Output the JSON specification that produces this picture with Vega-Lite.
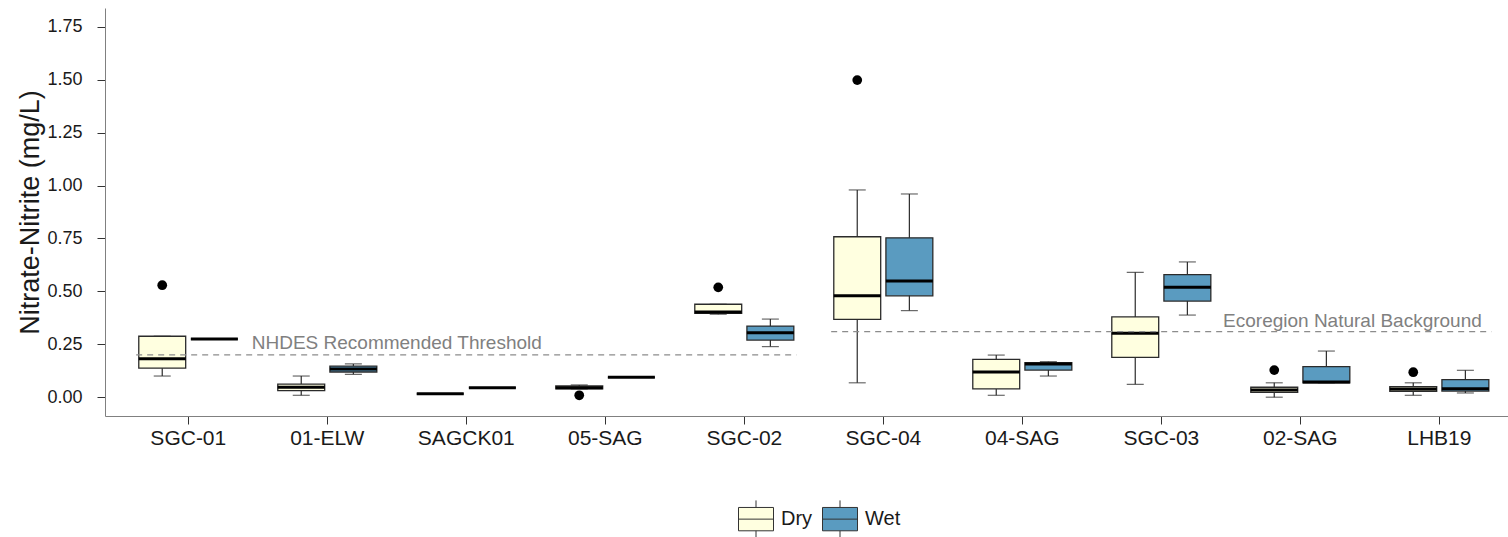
{
  "$schema": "https://vega.github.io/schema/vega-lite/v6.json",
  "autosize": {"type": "none"},
  "padding": {"left": 105, "top": 8, "right": 0, "bottom": 121},
  "width": 1403,
  "height": 408,
  "background": "white",
  "config": {
    "view": {"stroke": null},
    "font": "Liberation Sans",
    "axisX": {"domainColor": "#808080", "tickColor": "#333333", "tickSize": 8, "labelFontSize": 21, "labelColor": "#1a1a1a", "labelPadding": 3, "grid": false, "labelAngle": 0},
    "axisY": {"domainColor": "#808080", "tickColor": "#333333", "tickSize": 8, "labelFontSize": 18, "labelColor": "#1a1a1a", "labelPadding": 15, "grid": false, "titleFontSize": 27, "titleFontWeight": "normal", "titleColor": "#1a1a1a", "titlePadding": 2}
  },
  "datasets": {
    "boxes": [
      {"site": "SGC-01", "season": "Dry", "lower": 0.100, "q1": 0.137, "median": 0.182, "q3": 0.288, "upper": 0.288, "outlier": 0.529},
      {"site": "SGC-01", "season": "Wet", "lower": 0.275, "q1": 0.275, "median": 0.275, "q3": 0.275, "upper": 0.275, "outlier": null},
      {"site": "01-ELW", "season": "Dry", "lower": 0.009, "q1": 0.031, "median": 0.047, "q3": 0.062, "upper": 0.100, "outlier": null},
      {"site": "01-ELW", "season": "Wet", "lower": 0.108, "q1": 0.119, "median": 0.133, "q3": 0.147, "upper": 0.157, "outlier": null},
      {"site": "SAGCK01", "season": "Dry", "lower": 0.016, "q1": 0.016, "median": 0.016, "q3": 0.016, "upper": 0.016, "outlier": null},
      {"site": "SAGCK01", "season": "Wet", "lower": 0.045, "q1": 0.045, "median": 0.045, "q3": 0.045, "upper": 0.045, "outlier": null},
      {"site": "05-SAG", "season": "Dry", "lower": 0.039, "q1": 0.039, "median": 0.045, "q3": 0.053, "upper": 0.058, "outlier": 0.009},
      {"site": "05-SAG", "season": "Wet", "lower": 0.094, "q1": 0.094, "median": 0.094, "q3": 0.094, "upper": 0.094, "outlier": null},
      {"site": "SGC-02", "season": "Dry", "lower": 0.392, "q1": 0.396, "median": 0.402, "q3": 0.439, "upper": 0.439, "outlier": 0.519},
      {"site": "SGC-02", "season": "Wet", "lower": 0.239, "q1": 0.270, "median": 0.305, "q3": 0.336, "upper": 0.369, "outlier": null},
      {"site": "SGC-04", "season": "Dry", "lower": 0.068, "q1": 0.368, "median": 0.479, "q3": 0.758, "upper": 0.979, "outlier": 1.498},
      {"site": "SGC-04", "season": "Wet", "lower": 0.409, "q1": 0.479, "median": 0.549, "q3": 0.753, "upper": 0.960, "outlier": null},
      {"site": "04-SAG", "season": "Dry", "lower": 0.009, "q1": 0.039, "median": 0.119, "q3": 0.179, "upper": 0.199, "outlier": null},
      {"site": "04-SAG", "season": "Wet", "lower": 0.100, "q1": 0.128, "median": 0.157, "q3": 0.163, "upper": 0.168, "outlier": null},
      {"site": "SGC-03", "season": "Dry", "lower": 0.061, "q1": 0.188, "median": 0.302, "q3": 0.379, "upper": 0.590, "outlier": null},
      {"site": "SGC-03", "season": "Wet", "lower": 0.388, "q1": 0.454, "median": 0.519, "q3": 0.579, "upper": 0.639, "outlier": null},
      {"site": "02-SAG", "season": "Dry", "lower": 0.000, "q1": 0.023, "median": 0.034, "q3": 0.047, "upper": 0.068, "outlier": 0.128},
      {"site": "02-SAG", "season": "Wet", "lower": 0.068, "q1": 0.068, "median": 0.072, "q3": 0.144, "upper": 0.218, "outlier": null},
      {"site": "LHB19", "season": "Dry", "lower": 0.009, "q1": 0.028, "median": 0.039, "q3": 0.050, "upper": 0.068, "outlier": 0.118},
      {"site": "LHB19", "season": "Wet", "lower": 0.020, "q1": 0.029, "median": 0.040, "q3": 0.083, "upper": 0.127, "outlier": null}
    ],
    "thresholds": [
      {"from": "SGC-01", "to": "SGC-02", "value": 0.2},
      {"from": "SGC-04", "to": "LHB19", "value": 0.31}
    ],
    "label1": [
      {"site": "01-ELW", "value": 0.228, "label": "NHDES Recommended Threshold"}
    ],
    "label2": [
      {"site": "02-SAG", "value": 0.333, "label": "Ecoregion Natural Background"}
    ]
  },
  "layer": [
    {
      "data": {"name": "boxes"},
      "mark": {"type": "rule", "color": "#2b2b2b", "strokeWidth": 1.2},
      "encoding": {
        "x": {"field": "site", "type": "nominal", "sort": null, "title": null, "scale": {"type": "band", "domain": ["SGC-01", "01-ELW", "SAGCK01", "05-SAG", "SGC-02", "SGC-04", "04-SAG", "SGC-03", "02-SAG", "LHB19"], "paddingInner": 0.25, "paddingOuter": 0.1717, "align": 0.653}},
        "xOffset": {"field": "season", "type": "nominal", "scale": {"domain": ["Dry", "Wet"], "paddingInner": 0.1, "paddingOuter": 0.05}},
        "y": {"field": "lower", "type": "quantitative", "title": "Nitrate-Nitrite (mg/L)", "scale": {"domain": [-0.0888, 1.8385], "nice": false, "zero": false}, "axis": {"values": [0, 0.25, 0.5, 0.75, 1, 1.25, 1.5, 1.75], "format": ".2f"}},
        "y2": {"field": "upper"}
      }
    },
    {
      "data": {"name": "boxes"},
      "mark": {"type": "tick", "color": "#2b2b2b", "size": 17, "thickness": 1.2},
      "encoding": {
        "x": {"field": "site", "type": "nominal", "sort": null, "title": null},
        "xOffset": {"field": "season", "type": "nominal"},
        "y": {"field": "lower", "type": "quantitative", "title": "Nitrate-Nitrite (mg/L)"}
      }
    },
    {
      "data": {"name": "boxes"},
      "mark": {"type": "tick", "color": "#2b2b2b", "size": 17, "thickness": 1.2},
      "encoding": {
        "x": {"field": "site", "type": "nominal", "sort": null, "title": null},
        "xOffset": {"field": "season", "type": "nominal"},
        "y": {"field": "upper", "type": "quantitative", "title": "Nitrate-Nitrite (mg/L)"}
      }
    },
    {
      "data": {"name": "boxes"},
      "mark": {"type": "bar", "stroke": "#2b2b2b", "strokeWidth": 1.3},
      "encoding": {
        "x": {"field": "site", "type": "nominal", "sort": null, "title": null},
        "xOffset": {"field": "season", "type": "nominal"},
        "y": {"field": "q1", "type": "quantitative", "title": "Nitrate-Nitrite (mg/L)"},
        "y2": {"field": "q3"},
        "fill": {"field": "season", "type": "nominal", "scale": {"domain": ["Dry", "Wet"], "range": ["#FFFFE0", "#5A9BC0"]},
          "legend": {"title": null, "orient": "none", "direction": "horizontal", "legendX": 633, "legendY": 493, "padding": 0,
            "symbolType": "M-1,-0.667H1V0.667H-1Z M-1,0H1 M0,-0.667V-1.07 M0,0.667V1.07",
            "symbolSize": 1225, "symbolStrokeColor": "#333333", "symbolStrokeWidth": 1,
            "labelFontSize": 20, "labelColor": "#1a1a1a", "labelOffset": 7, "columnPadding": 7, "labelFont": "Liberation Sans"}}
      }
    },
    {
      "data": {"name": "boxes"},
      "mark": {"type": "tick", "color": "black", "thickness": 3, "size": 47, "opacity": 1},
      "encoding": {
        "x": {"field": "site", "type": "nominal", "sort": null, "title": null},
        "xOffset": {"field": "season", "type": "nominal"},
        "y": {"field": "median", "type": "quantitative", "title": "Nitrate-Nitrite (mg/L)"}
      }
    },
    {
      "data": {"name": "boxes"},
      "mark": {"type": "point", "filled": true, "color": "black", "size": 95, "opacity": 1},
      "encoding": {
        "x": {"field": "site", "type": "nominal", "sort": null, "title": null},
        "xOffset": {"field": "season", "type": "nominal"},
        "y": {"field": "outlier", "type": "quantitative", "title": "Nitrate-Nitrite (mg/L)"}
      }
    },
    {
      "data": {"name": "thresholds"},
      "mark": {"type": "rule", "color": "#8c8c8c", "strokeWidth": 1.2, "strokeDash": [6, 5]},
      "encoding": {
        "x": {"field": "from", "type": "nominal", "sort": null, "title": null, "bandPosition": 0},
        "x2": {"field": "to", "bandPosition": 1},
        "y": {"field": "value", "type": "quantitative", "title": "Nitrate-Nitrite (mg/L)"}
      }
    },
    {
      "data": {"name": "label1"},
      "mark": {"type": "text", "color": "#808080", "fontSize": 19, "align": "center", "baseline": "alphabetic", "font": "Liberation Sans"},
      "encoding": {
        "x": {"field": "site", "type": "nominal", "sort": null, "title": null, "bandPosition": 1.1665},
        "y": {"field": "value", "type": "quantitative", "title": "Nitrate-Nitrite (mg/L)"},
        "text": {"field": "label"}
      }
    },
    {
      "data": {"name": "label2"},
      "mark": {"type": "text", "color": "#808080", "fontSize": 19, "align": "center", "baseline": "alphabetic", "font": "Liberation Sans"},
      "encoding": {
        "x": {"field": "site", "type": "nominal", "sort": null, "title": null, "bandPosition": 1.0},
        "y": {"field": "value", "type": "quantitative", "title": "Nitrate-Nitrite (mg/L)"},
        "text": {"field": "label"}
      }
    },
    {
      "mark": {"type": "rule", "color": "#808080", "strokeWidth": 1},
      "encoding": {
        "y": {"datum": 1.8385}
      }
    }
  ]
}
